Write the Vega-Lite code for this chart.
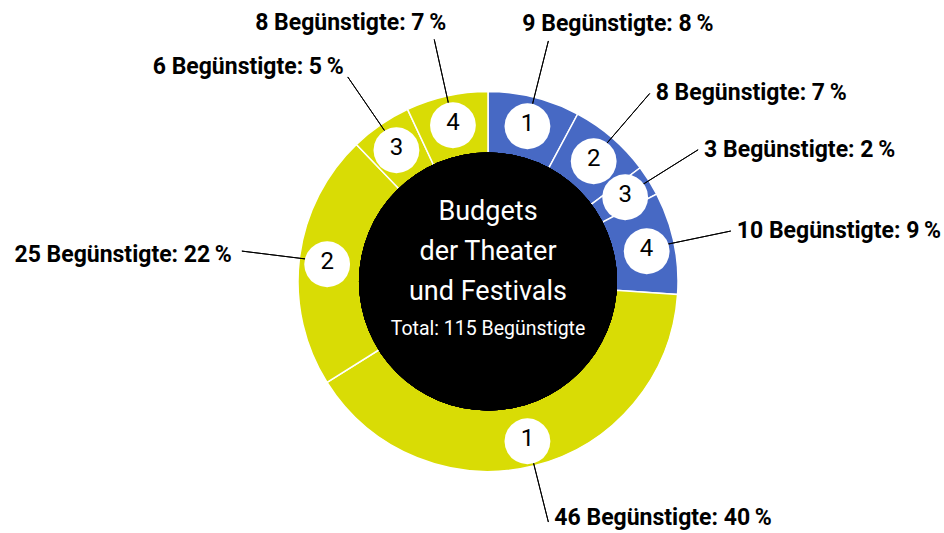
{
  "$schema": "https://vega.github.io/schema/vega-lite/v6.json",
  "width": 944,
  "height": 533,
  "autosize": {"type": "fit", "contains": "padding"},
  "padding": {"left": 30, "top": 27, "right": 0, "bottom": 0},
  "background": "white",
  "config": {"view": {"stroke": null}, "text": {"font": "Roboto"}},
  "data": {"values": [
    {"idx": 1, "grp": "A", "n": "1", "value": 9, "label": "9 Begünstigte: 8\u2009%"},
    {"idx": 2, "grp": "A", "n": "2", "value": 8, "label": "8 Begünstigte: 7\u2009%"},
    {"idx": 3, "grp": "A", "n": "3", "value": 3, "label": "3 Begünstigte: 2\u2009%"},
    {"idx": 4, "grp": "A", "n": "4", "value": 10, "label": "10 Begünstigte: 9\u2009%"},
    {"idx": 5, "grp": "B", "n": "1", "value": 46, "label": "46 Begünstigte: 40\u2009%"},
    {"idx": 6, "grp": "B", "n": "2", "value": 25, "label": "25 Begünstigte: 22\u2009%"},
    {"idx": 7, "grp": "B", "n": "3", "value": 6, "label": "6 Begünstigte: 5\u2009%"},
    {"idx": 8, "grp": "B", "n": "4", "value": 8, "label": "8 Begünstigte: 7\u2009%"}
  ]},
  "transform": [
    {"window": [{"op": "sum", "field": "value", "as": "cum"}], "sort": [{"field": "idx", "order": "ascending"}], "frame": [null, 0]},
    {"calculate": "datum.cum - datum.value / 2", "as": "mid"}
  ],
  "layer": [
    {
      "mark": {"type": "arc", "outerRadius": 190, "innerRadius": 128, "stroke": "white", "strokeWidth": 1.5},
      "encoding": {
        "theta": {"field": "value", "type": "quantitative", "stack": true, "scale": {"domain": [0, 115]}},
        "order": {"field": "idx", "type": "quantitative"},
        "color": {"field": "grp", "type": "nominal", "scale": {"domain": ["A", "B"], "range": ["#4769C4", "#D9DC05"]}, "legend": null}
      }
    },
    {
      "mark": {"type": "arc", "outerRadius": 129, "innerRadius": 0, "theta": 0, "theta2": 6.2832, "fill": "black"},
      "encoding": {}
    },
    {
      "mark": {"type": "arc", "innerRadius": 180, "outerRadius": 248, "filled": false, "stroke": "black", "strokeWidth": 1},
      "encoding": {
        "theta": {"field": "mid", "type": "quantitative", "stack": null, "scale": {"domain": [0, 115]}},
        "theta2": {"field": "mid"}
      }
    },
    {
      "mark": {"type": "text", "text": "●", "radius": 162, "fontSize": 60, "font": "DejaVu Sans", "color": "white", "align": "center", "baseline": "middle"},
      "encoding": {
        "theta": {"field": "mid", "type": "quantitative", "stack": null, "scale": {"domain": [0, 115]}}
      }
    },
    {
      "mark": {"type": "text", "radius": 162, "fontSize": 24, "color": "black", "align": "center", "baseline": "middle"},
      "encoding": {
        "theta": {"field": "mid", "type": "quantitative", "stack": null, "scale": {"domain": [0, 115]}},
        "text": {"field": "n"}
      }
    },
    {
      "transform": [{"filter": "datum.idx >= 2 && datum.idx <= 4"}],
      "mark": {"type": "text", "radius": 248, "fontSize": 23, "fontWeight": "bold", "color": "black", "align": "left", "baseline": "middle", "dx": 6},
      "encoding": {
        "theta": {"field": "mid", "type": "quantitative", "stack": null, "scale": {"domain": [0, 115]}},
        "text": {"field": "label"}
      }
    },
    {
      "transform": [{"filter": "datum.idx == 1"}],
      "mark": {"type": "text", "radius": 248, "fontSize": 23, "fontWeight": "bold", "color": "black", "align": "left", "baseline": "middle", "dx": -26, "dy": -17},
      "encoding": {
        "theta": {"field": "mid", "type": "quantitative", "stack": null, "scale": {"domain": [0, 115]}},
        "text": {"field": "label"}
      }
    },
    {
      "transform": [{"filter": "datum.idx == 5"}],
      "mark": {"type": "text", "radius": 248, "fontSize": 23, "fontWeight": "bold", "color": "black", "align": "left", "baseline": "middle", "dx": 6, "dy": -4},
      "encoding": {
        "theta": {"field": "mid", "type": "quantitative", "stack": null, "scale": {"domain": [0, 115]}},
        "text": {"field": "label"}
      }
    },
    {
      "transform": [{"filter": "datum.idx == 6"}],
      "mark": {"type": "text", "radius": 248, "fontSize": 23, "fontWeight": "bold", "color": "black", "align": "right", "baseline": "middle", "dx": -10, "dy": 4},
      "encoding": {
        "theta": {"field": "mid", "type": "quantitative", "stack": null, "scale": {"domain": [0, 115]}},
        "text": {"field": "label"}
      }
    },
    {
      "transform": [{"filter": "datum.idx == 7"}],
      "mark": {"type": "text", "radius": 248, "fontSize": 23, "fontWeight": "bold", "color": "black", "align": "right", "baseline": "middle", "dx": -4, "dy": -10},
      "encoding": {
        "theta": {"field": "mid", "type": "quantitative", "stack": null, "scale": {"domain": [0, 115]}},
        "text": {"field": "label"}
      }
    },
    {
      "transform": [{"filter": "datum.idx == 8"}],
      "mark": {"type": "text", "radius": 248, "fontSize": 23, "fontWeight": "bold", "color": "black", "align": "right", "baseline": "middle", "dx": 12, "dy": -16},
      "encoding": {
        "theta": {"field": "mid", "type": "quantitative", "stack": null, "scale": {"domain": [0, 115]}},
        "text": {"field": "label"}
      }
    },
    {
      "data": {"values": [{"t": "center"}]},
      "mark": {"type": "text", "text": ["Budgets", "der Theater", "und Festivals"], "fontSize": 27, "lineHeight": 40, "color": "white", "align": "center", "baseline": "alphabetic", "dy": -62},
      "encoding": {}
    },
    {
      "data": {"values": [{"t": "total"}]},
      "mark": {"type": "text", "text": "Total: 115 Begünstigte", "fontSize": 19.5, "color": "white", "align": "center", "baseline": "alphabetic", "dy": 53},
      "encoding": {}
    }
  ]
}
